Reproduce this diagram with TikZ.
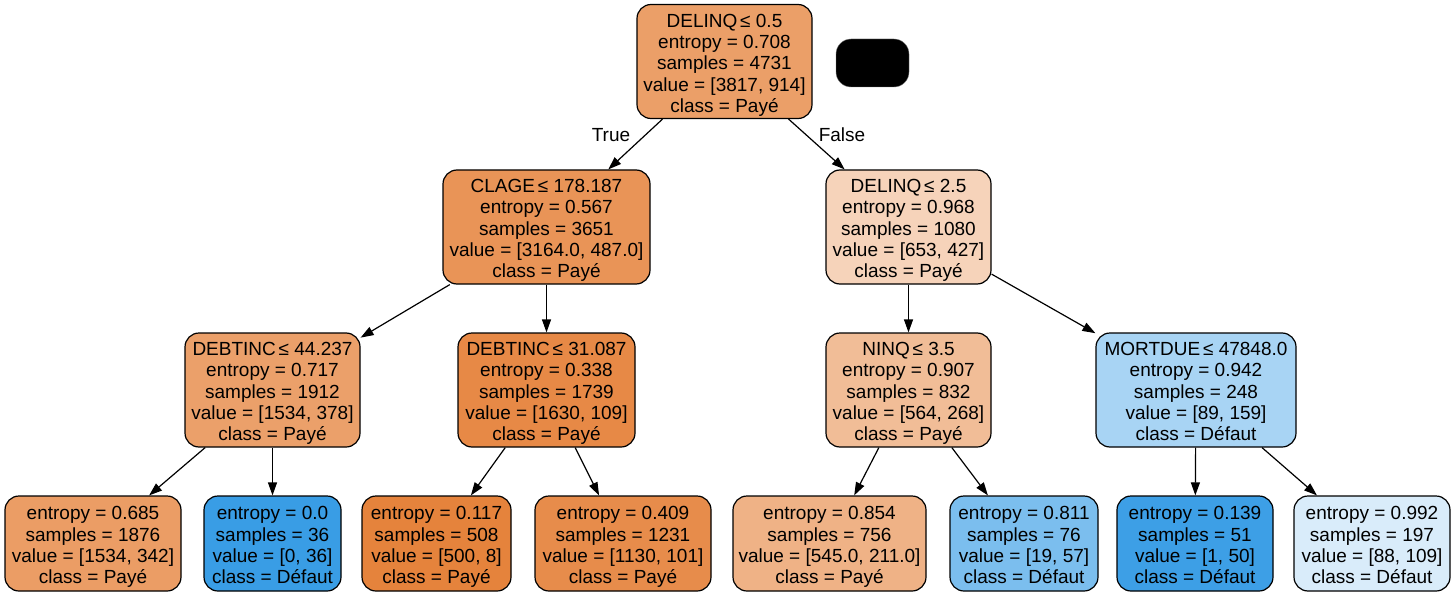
\documentclass[tikz,border=0pt]{standalone}
\usepackage{fontspec}
\setmainfont{Liberation Sans}
\usetikzlibrary{arrows.meta}
\definecolor{cRoot}{RGB}{235,159,104}
\definecolor{cClage}{RGB}{233,148,87}
\definecolor{cDelB}{RGB}{246,211,186}
\definecolor{cDebA}{RGB}{235,160,106}
\definecolor{cDebB}{RGB}{231,137,70}
\definecolor{cNinq}{RGB}{241,189,151}
\definecolor{cMort}{RGB}{168,212,244}
\definecolor{cLa}{RGB}{235,157,101}
\definecolor{cLb}{RGB}{57,157,229}
\definecolor{cLc}{RGB}{229,131,60}
\definecolor{cLd}{RGB}{231,140,75}
\definecolor{cLe}{RGB}{239,178,134}
\definecolor{cLf}{RGB}{123,190,238}
\definecolor{cLg}{RGB}{61,159,230}
\definecolor{cLh}{RGB}{217,236,250}
\newcommand{\nodetxt}[1]{\raisebox{-4pt}[\height][\depth]{\begin{tabular}{@{}c@{}}#1\end{tabular}}}
\newcommand{\lesign}{\hspace{-2.5pt}≤}
\begin{document}
\begin{tikzpicture}[x=1pt,y=-1pt,
  tn/.style={draw=black, line width=1.2pt, rounded corners=14pt, inner sep=0pt, font=\fontsize{19}{21.3}\selectfont},
  split/.style={tn, minimum height=114pt},
  leaf/.style={tn, minimum height=95pt},
  edge/.style={line width=1.2pt, -{Triangle[length=13pt,width=9pt]}},
  lbl/.style={font=\fontsize{19}{21.3}\selectfont, inner sep=0pt}]
\useasboundingbox[fill=white] (0,0) rectangle (1455,596);

\node[split, fill=cRoot, minimum width=175pt] (root) at (724.5,61.5) {\nodetxt{DELINQ \lesign{} 0.5\\entropy = 0.708\\samples = 4731\\value = [3817, 914]\\class = Payé}};
\node[draw=gray, fill=black, rounded corners=15pt, minimum width=73pt, minimum height=48pt, inner sep=0pt] (blk) at (872.5,63) {};

\node[split, fill=cClage, minimum width=207pt] (clage) at (546.5,227) {\nodetxt{CLAGE \lesign{} 178.187\\entropy = 0.567\\samples = 3651\\value = [3164.0, 487.0]\\class = Payé}};
\node[split, fill=cDelB, minimum width=165pt] (delb) at (908.5,227) {\nodetxt{DELINQ \lesign{} 2.5\\entropy = 0.968\\samples = 1080\\value = [653, 427]\\class = Payé}};

\node[split, fill=cDebA, minimum width=175pt] (deba) at (272.5,390) {\nodetxt{DEBTINC \lesign{} 44.237\\entropy = 0.717\\samples = 1912\\value = [1534, 378]\\class = Payé}};
\node[split, fill=cDebB, minimum width=177pt] (debb) at (546.5,390) {\nodetxt{DEBTINC \lesign{} 31.087\\entropy = 0.338\\samples = 1739\\value = [1630, 109]\\class = Payé}};
\node[split, fill=cNinq, minimum width=165pt] (ninq) at (908.5,390) {\nodetxt{NINQ \lesign{} 3.5\\entropy = 0.907\\samples = 832\\value = [564, 268]\\class = Payé}};
\node[split, fill=cMort, minimum width=200pt] (mort) at (1196,390) {\nodetxt{MORTDUE \lesign{} 47848.0\\entropy = 0.942\\samples = 248\\value = [89, 159]\\class = Défaut}};

\node[leaf, fill=cLa, minimum width=176pt] (la) at (93,543.5) {\nodetxt{entropy = 0.685\\samples = 1876\\value = [1534, 342]\\class = Payé}};
\node[leaf, fill=cLb, minimum width=137pt] (lb) at (272.5,543.5) {\nodetxt{entropy = 0.0\\samples = 36\\value = [0, 36]\\class = Défaut}};
\node[leaf, fill=cLc, minimum width=149pt] (lc) at (436.5,543.5) {\nodetxt{entropy = 0.117\\samples = 508\\value = [500, 8]\\class = Payé}};
\node[leaf, fill=cLd, minimum width=176pt] (ld) at (623,543.5) {\nodetxt{entropy = 0.409\\samples = 1231\\value = [1130, 101]\\class = Payé}};
\node[leaf, fill=cLe, minimum width=193pt] (le) at (829.5,543.5) {\nodetxt{entropy = 0.854\\samples = 756\\value = [545.0, 211.0]\\class = Payé}};
\node[leaf, fill=cLf, minimum width=148pt] (lf) at (1024,543.5) {\nodetxt{entropy = 0.811\\samples = 76\\value = [19, 57]\\class = Défaut}};
\node[leaf, fill=cLg, minimum width=156pt] (lg) at (1195,543.5) {\nodetxt{entropy = 0.139\\samples = 51\\value = [1, 50]\\class = Défaut}};
\node[leaf, fill=cLh, minimum width=156pt] (lh) at (1372,543.5) {\nodetxt{entropy = 0.992\\samples = 197\\value = [88, 109]\\class = Défaut}};

\draw[edge] (root) -- (clage);
\draw[edge] (root) -- (delb);
\draw[edge] (clage) -- (deba);
\draw[edge] (clage) -- (debb);
\draw[edge] (delb) -- (ninq);
\draw[edge] (delb) -- (mort);
\draw[edge] (deba) -- (la);
\draw[edge] (deba) -- (lb);
\draw[edge] (debb) -- (lc);
\draw[edge] (debb) -- (ld);
\draw[edge] (ninq) -- (le);
\draw[edge] (ninq) -- (lf);
\draw[edge] (mort) -- (lg);
\draw[edge] (mort) -- (lh);

\node[lbl] (tlab) at (611,135) {True};
\node[lbl] (flab) at (842,135) {False};
\end{tikzpicture}
\end{document}
